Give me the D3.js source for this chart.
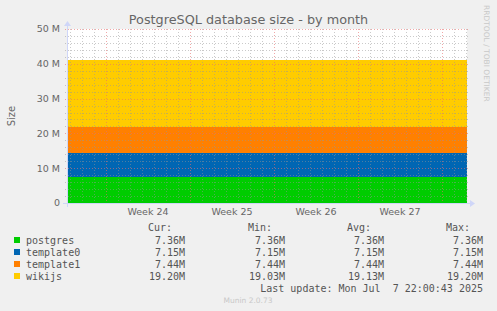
<!DOCTYPE html>
<html lang="en">
<head>
    <meta charset="UTF-8">
    <title>PostgreSQL database size - by month</title>
    <script src="https://d3js.org/d3.v7.min.js"></script>
    <style>
        body { margin: 0; background: #F0F0F0; }
        svg { display: block; }
        .sans { font-family: "DejaVu Sans", sans-serif; fill: #666666; }
        .mono { font-family: "DejaVu Sans Mono", monospace; fill: #555555; font-size: 10px; }
    </style>
</head>
<body>
    <div id="chart"></div>

    <script>
        // Series (sizes in MB), step samples over the month
        const dbNames = ['postgres', 'template0', 'template1', 'wikijs'];
        const dbColors = ['#00CC00', '#0066B3', '#FF8000', '#FFCC00'];
        const sampleTimes = ['2025-06-04T18:00:00Z', '2025-06-23T20:00:00Z', '2025-07-08T01:55:00Z'];
        const postgres = [7.36, 7.36, 7.36];
        const template0 = [7.15, 7.15, 7.15];
        const template1 = [7.44, 7.44, 7.44];
        const wikijs = [19.03, 19.20, 19.20];

        // Legend stats
        const curVals = [7.36, 7.15, 7.44, 19.20];
        const minVals = [7.36, 7.15, 7.44, 19.03];
        const avgVals = [7.36, 7.15, 7.44, 19.13];
        const maxVals = [7.36, 7.15, 7.44, 19.20];

        const yTicks = [0, 10, 20, 30, 40, 50];
        const yTickLabels = ['0', '10 M', '20 M', '30 M', '40 M', '50 M'];
        const lastUpdate = 'Last update: Mon Jul  7 22:00:43 2025';

        const W = 497, H = 311;
        const x0 = 67, x1 = 467, yTop = 29, yBot = 203;

        const svg = d3.select('#chart').append('svg')
            .attr('width', W).attr('height', H);

        svg.append('rect').attr('width', W).attr('height', H).attr('fill', '#F0F0F0');
        svg.append('rect').attr('x', x0).attr('y', yTop)
            .attr('width', x1 - x0).attr('height', yBot - yTop).attr('fill', '#FFFFFF');

        const start = new Date('2025-06-04T18:00:00Z');
        const end = new Date('2025-07-08T02:00:00Z');
        const x = d3.scaleUtc().domain([start, end]).range([x0, x1]);
        const y = d3.scaleLinear().domain([0, 50]).range([yBot, yTop]);

        // stacked table
        const table = sampleTimes.map((t, i) => ({
            t: new Date(t),
            postgres: postgres[i], template0: template0[i],
            template1: template1[i], wikijs: wikijs[i]
        }));
        const layers = d3.stack().keys(dbNames)(table);

        const area = d3.area()
            .curve(d3.curveStepAfter)
            .x(d => x(d.data.t))
            .y0(d => y(d[0]))
            .y1(d => y(d[1]));

        svg.append('g').selectAll('path').data(layers).join('path')
            .attr('d', area)
            .attr('fill', (d, i) => dbColors[i])
            .attr('shape-rendering', 'crispEdges');

        // grid (drawn over the areas, as rrdtool does)
        const minorCol = 'rgba(150,150,150,0.5)';
        const majorCol = 'rgba(230,110,110,0.6)';
        const grid = svg.append('g').attr('shape-rendering', 'crispEdges');
        const minorY = d3.range(0, 51, 2).filter(v => v % 10 !== 0);
        grid.selectAll('.hmin').data(minorY).join('line')
            .attr('x1', x0 - 2).attr('x2', x1 + 2)
            .attr('y1', d => Math.round(y(d)) + 0.5).attr('y2', d => Math.round(y(d)) + 0.5)
            .attr('stroke', minorCol).attr('stroke-dasharray', '1,2');
        const days = d3.utcDay.range(start, end).filter(d => d.getUTCDay() !== 0);
        grid.selectAll('.vmin').data(days).join('line')
            .attr('x1', d => Math.round(x(d)) + 0.5).attr('x2', d => Math.round(x(d)) + 0.5)
            .attr('y1', yTop).attr('y2', yBot + 2)
            .attr('stroke', minorCol).attr('stroke-dasharray', '1,2');
        grid.selectAll('.hmaj').data(yTicks.filter(v => v > 0)).join('line')
            .attr('x1', x0 - 2).attr('x2', x1 + 2)
            .attr('y1', d => Math.round(y(d)) + 0.5).attr('y2', d => Math.round(y(d)) + 0.5)
            .attr('stroke', majorCol).attr('stroke-dasharray', '1,2');
        const sundays = d3.utcSunday.range(start, end);
        grid.selectAll('.vmaj').data(sundays).join('line')
            .attr('x1', d => Math.round(x(d)) + 0.5).attr('x2', d => Math.round(x(d)) + 0.5)
            .attr('y1', yTop).attr('y2', yBot + 3)
            .attr('stroke', majorCol).attr('stroke-dasharray', '1,2');

        // axes
        const axisCol = '#CFD6F8';
        svg.append('line').attr('x1', x0 - 4).attr('x2', x1 + 3)
            .attr('y1', yBot + 0.5).attr('y2', yBot + 0.5).attr('stroke', axisCol);
        svg.append('line').attr('x1', x0 + 0.5).attr('x2', x0 + 0.5)
            .attr('y1', yBot + 4).attr('y2', yTop - 4).attr('stroke', axisCol);
        svg.append('path').attr('d', `M${x1 + 3},${yBot - 3} L${x1 + 8},${yBot + 0.5} L${x1 + 3},${yBot + 4} Z`)
            .attr('fill', axisCol);
        svg.append('path').attr('d', `M${x0 - 3},${yTop - 3} L${x0 + 0.5},${yTop - 8} L${x0 + 4},${yTop - 3} Z`)
            .attr('fill', axisCol);

        // y tick labels
        svg.append('g').selectAll('text').data(yTicks).join('text')
            .attr('class', 'sans')
            .attr('x', 60).attr('y', d => y(d))
            .attr('dy', '0.35em').attr('text-anchor', 'end')
            .attr('font-size', '9.5px')
            .text((d, i) => yTickLabels[i]);

        // week labels, centred on each week
        const weekStarts = d3.utcSunday.range(d3.utcSunday.offset(start, -1), end);
        const fmtWeek = d3.utcFormat('%V');
        const weekMids = weekStarts.map(s => new Date(+s + 3.5 * 864e5))
            .filter(m => m > start && m < end);
        svg.append('g').selectAll('text').data(weekMids).join('text')
            .attr('class', 'sans')
            .attr('x', d => x(d)).attr('y', 212)
            .attr('dy', '0.35em').attr('text-anchor', 'middle')
            .attr('font-size', '9.5px')
            .text(d => 'Week ' + +fmtWeek(d));

        // title and labels
        svg.append('text').attr('class', 'sans')
            .attr('x', 248.5).attr('y', 20).attr('dy', '0.35em')
            .attr('text-anchor', 'middle').attr('font-size', '12.8px')
            .text('PostgreSQL database size - by month');
        svg.append('text').attr('class', 'sans')
            .attr('transform', 'translate(11,116) rotate(-90)')
            .attr('dy', '0.35em').attr('text-anchor', 'middle').attr('font-size', '10px')
            .text('Size');
        svg.append('text').attr('class', 'sans')
            .attr('transform', 'translate(487,5) rotate(90)')
            .attr('dy', '0.35em').attr('font-size', '7.5px').style('fill', '#C8C8C8')
            .text('RRDTOOL / TOBI OETIKER');

        // legend
        const fmt = v => v.toFixed(2) + 'M';
        const headers = [['Cur:', 172], ['Min:', 272], ['Avg:', 371], ['Max:', 470]];
        svg.append('g').selectAll('text').data(headers).join('text')
            .attr('class', 'mono').attr('x', d => d[1]).attr('y', 227)
            .attr('dy', '0.35em').attr('text-anchor', 'end').text(d => d[0]);

        const cols = [[curVals, 185], [minVals, 285], [avgVals, 384], [maxVals, 483]];
        dbNames.forEach((name, i) => {
            const ry = 240 + i * 12;
            svg.append('rect').attr('x', 14).attr('y', ry - 3).attr('width', 6).attr('height', 6)
                .attr('fill', dbColors[i]);
            svg.append('text').attr('class', 'mono').attr('x', 26).attr('y', ry)
                .attr('dy', '0.35em').text(name);
            cols.forEach(([vals, cx]) => {
                svg.append('text').attr('class', 'mono').attr('x', cx).attr('y', ry)
                    .attr('dy', '0.35em').attr('text-anchor', 'end').text(fmt(vals[i]));
            });
        });

        svg.append('text').attr('class', 'mono').attr('x', 483).attr('y', 288)
            .attr('dy', '0.35em').attr('text-anchor', 'end').style('white-space', 'pre')
            .attr('xml:space', 'preserve')
            .text(lastUpdate);
        svg.append('text').attr('class', 'sans').attr('x', 248).attr('y', 300)
            .attr('dy', '0.35em').attr('text-anchor', 'middle').attr('font-size', '7.5px')
            .style('fill', '#C8C8C8').text('Munin 2.0.73');
    </script>
</body>
</html>
